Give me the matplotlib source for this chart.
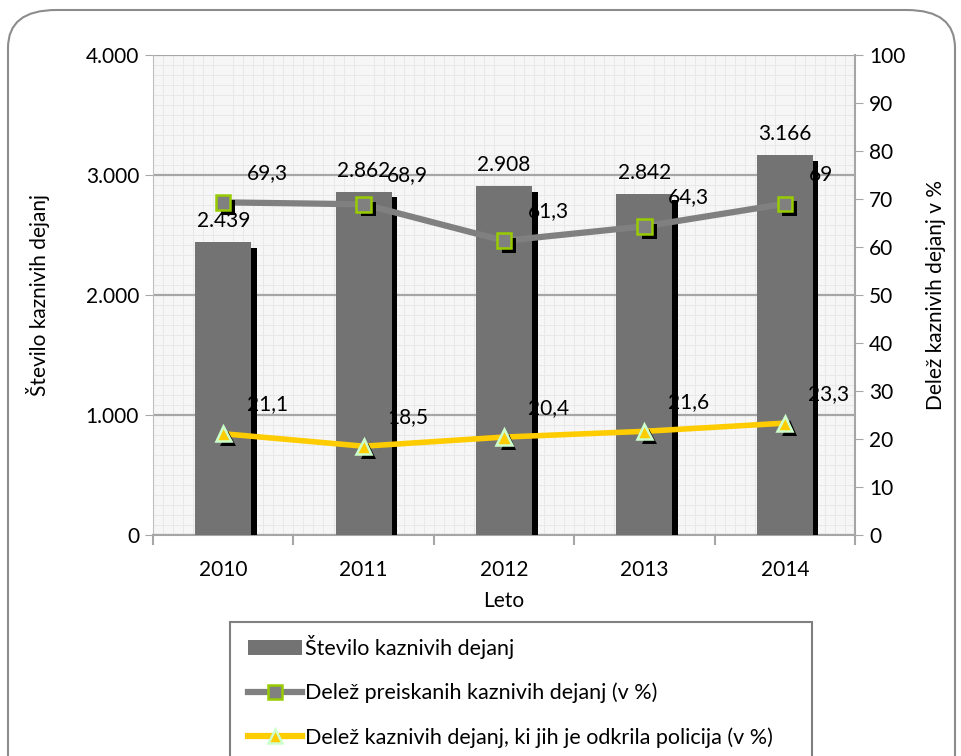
import matplotlib
matplotlib.use("Agg")
import matplotlib.pyplot as plt
import matplotlib.patheffects as pe
from matplotlib.patches import FancyBboxPatch, Patch, Rectangle
from matplotlib.lines import Line2D
from matplotlib.ticker import FuncFormatter, MultipleLocator, FixedLocator
import numpy as np

plt.rcParams['font.family'] = ['Lato', 'DejaVu Sans']

years = ['2010', '2011', '2012', '2013', '2014']
stevilo = [2439, 2862, 2908, 2842, 3166]
preiskanih = [69.3, 68.9, 61.3, 64.3, 69.0]
odkrila = [21.1, 18.5, 20.4, 21.6, 23.3]

lbl_bars = 'Število kaznivih dejanj'
lbl_pre = 'Delež preiskanih kaznivih dejanj (v %)'
lbl_odk = 'Delež kaznivih dejanj, ki jih je odkrila policija (v %)'

FS = 15
W, H = 962, 756
fig = plt.figure(figsize=(W / 100, H / 100), dpi=100, facecolor='white')

# outer rounded border
border = FancyBboxPatch((8 / W, -0.1), (955 - 8) / W, 1.1 - 10 / H,
                        boxstyle="round,pad=0,rounding_size=0.05",
                        transform=fig.transFigure, facecolor='none',
                        edgecolor='#8C8C8C', linewidth=1.5, zorder=-10)
fig.patches.append(border)

ax = fig.add_axes([153 / W, 1 - 535 / H, (855 - 153) / W, (535 - 55) / H])
ax.set_facecolor('#F6F6F6')
x = np.arange(len(years))

ax.set_xlim(-0.5, len(years) - 0.5)
ax.set_ylim(0, 4000)

# grid
ax.yaxis.set_major_locator(MultipleLocator(1000))
ax.yaxis.set_minor_locator(MultipleLocator(1000 / 12))
ax.xaxis.set_major_locator(FixedLocator(x))
ax.xaxis.set_minor_locator(FixedLocator(np.arange(-0.5, len(years), 5 / 70)))
ax.grid(which='minor', color='#E8E8E8', linewidth=0.7)
ax.grid(which='major', axis='y', color='#A6A6A6', linewidth=1.6)
ax.set_axisbelow(True)

bar_shadow = [pe.SimplePatchShadow(offset=(4, -4), shadow_rgbFace='black', alpha=1.0), pe.Normal()]
bars = ax.bar(x, stevilo, width=0.4, color='#737373', zorder=3)
for b in bars:
    b.set_path_effects(bar_shadow)

thousands = lambda v: f"{v:,.0f}".replace(',', '.')
for xi, v in zip(x, stevilo):
    ax.annotate(thousands(v), (xi, v), xytext=(0, 15), textcoords='offset points',
                ha='center', va='center', fontsize=FS, zorder=6)

ax.yaxis.set_major_formatter(FuncFormatter(lambda v, p: thousands(v)))
ax.set_xticklabels(years)
ax.tick_params(axis='y', which='major', length=6, color='#A6A6A6', labelsize=FS, pad=4)
ax.tick_params(axis='y', which='minor', length=0)
ax.tick_params(axis='x', which='major', length=0, labelsize=FS, pad=18)
ax.tick_params(axis='x', which='minor', length=0)
# category boundary ticks
for xb in np.arange(-0.5, len(years), 1.0):
    ax.plot([xb, xb], [0, -0.018], transform=ax.get_xaxis_transform(),
            color='#A6A6A6', linewidth=1.5, clip_on=False, zorder=5)

ax.spines['top'].set_visible(False)
ax.spines['left'].set_color('#BFBFBF')
ax.spines['bottom'].set_color('#A6A6A6')
ax.spines['bottom'].set_linewidth(1.5)
ax.spines['right'].set_visible(False)

ax.set_ylabel(lbl_bars, fontsize=FS, labelpad=26)
ax.set_xlabel('Leto', fontsize=FS, labelpad=8)

ax2 = ax.twinx()
ax2.set_ylim(0, 100)
ax2.yaxis.set_major_locator(MultipleLocator(10))
ax2.tick_params(axis='y', length=6, color='#A6A6A6', labelsize=FS, pad=4)
for s in ['top', 'left', 'bottom']:
    ax2.spines[s].set_visible(False)
ax2.spines['right'].set_color('#A6A6A6')
ax2.spines['right'].set_linewidth(1.5)
ax2.set_ylabel('Delež kaznivih dejanj v %', fontsize=FS, labelpad=15)

mk_shadow = [pe.SimplePatchShadow(offset=(3.5, -3.5), shadow_rgbFace='black', alpha=1.0), pe.Normal()]

ax2.plot(x, preiskanih, color='#808080', linewidth=4.5, zorder=3, solid_capstyle='butt')
m1 = ax2.plot(x, preiskanih, linestyle='none', marker='s', markersize=10.5,
              markerfacecolor='#808080', markeredgecolor='#99CC00', markeredgewidth=1.8, zorder=4)[0]
m1.set_path_effects(mk_shadow)

ax2.plot(x, odkrila, color='#FFCC00', linewidth=4.0, zorder=3, solid_capstyle='butt')
m2 = ax2.plot(x, odkrila, linestyle='none', marker='^', markersize=11,
              markerfacecolor='#FFCC00', markeredgecolor='#CCFFCC', markeredgewidth=1.8, zorder=4)[0]
m2.set_path_effects(mk_shadow)

fmt_pct = lambda v: (f"{v:.1f}".replace('.', ',')).replace(',0', '')
for xi, v in zip(x, preiskanih):
    ax2.annotate(fmt_pct(v), (xi, v), xytext=(17, 21),
                 textcoords='offset points', ha='left', va='center', fontsize=FS, zorder=6)
for xi, v in zip(x, odkrila):
    ax2.annotate(fmt_pct(v), (xi, v), xytext=(17, 21),
                 textcoords='offset points', ha='left', va='center', fontsize=FS, zorder=6)

# legend box
fig.patches.append(Rectangle((230 / W, -0.05), (812 - 230) / W, 0.05 + (756 - 622) / H,
                             transform=fig.transFigure, facecolor='white',
                             edgecolor='#808080', linewidth=1.5, zorder=1))

handles = [
    Patch(facecolor='#737373', edgecolor='none'),
    Line2D([], [], color='#808080', linewidth=4.5, marker='s', markersize=10,
           markerfacecolor='#808080', markeredgecolor='#99CC00', markeredgewidth=1.8),
    Line2D([], [], color='#FFCC00', linewidth=4.5, marker='^', markersize=10,
           markerfacecolor='#FFCC00', markeredgecolor='#CCFFCC', markeredgewidth=1.8),
]
leg = fig.legend(handles, [lbl_bars, lbl_pre, lbl_odk], loc='upper left',
                 bbox_to_anchor=(248 / W, 1 - 635 / H),
                 prop={'size': 15.5}, frameon=False,
                 borderpad=0, labelspacing=1.1, handlelength=2.5,
                 handletextpad=0.15, borderaxespad=0)
leg.set_zorder(2)

fig.savefig('out.png', dpi=100, facecolor='white')
